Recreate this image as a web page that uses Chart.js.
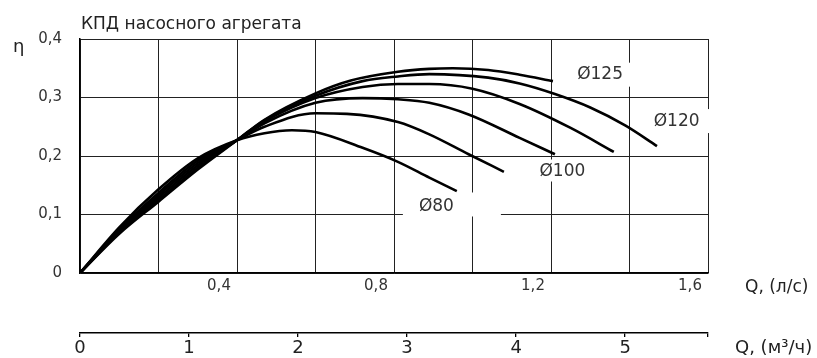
<!DOCTYPE html>
<html>
<head>
<meta charset="utf-8">
<script src="https://cdn.jsdelivr.net/npm/chart.js@4.4.1/dist/chart.umd.min.js"></script>
<style>
  html, body { margin: 0; padding: 0; background: #fff; }
</style>
</head>
<body>
<canvas id="effChart" width="817" height="358"></canvas>
<script>
// КПД насосного агрегата, Q in l/s
const q125 = [0, 0.1, 0.2, 0.3, 0.4, 0.47, 0.6, 0.69, 0.81, 0.89, 0.95, 1.04, 1.12, 1.205];
const eta125 = [0, 0.067, 0.122, 0.177, 0.227, 0.262, 0.307, 0.329, 0.344, 0.349, 0.350, 0.347, 0.339, 0.328];

const q120 = [0, 0.1, 0.2, 0.3, 0.4, 0.47, 0.6, 0.72, 0.81, 0.89, 1.04, 1.12, 1.21, 1.3, 1.39, 1.47];
const eta120 = [0, 0.069, 0.125, 0.180, 0.227, 0.261, 0.303, 0.328, 0.336, 0.340, 0.334, 0.324, 0.306, 0.283, 0.252, 0.217];

const q110 = [0, 0.1, 0.2, 0.3, 0.4, 0.47, 0.6, 0.72, 0.81, 0.89, 1.0, 1.12, 1.25, 1.36];
const eta110 = [0, 0.071, 0.129, 0.184, 0.227, 0.259, 0.299, 0.318, 0.323, 0.323, 0.315, 0.289, 0.248, 0.207];

const q100 = [0, 0.1, 0.2, 0.3, 0.4, 0.47, 0.6, 0.72, 0.81, 0.89, 0.99, 1.12, 1.21];
const eta100 = [0, 0.073, 0.133, 0.188, 0.227, 0.256, 0.291, 0.299, 0.297, 0.291, 0.271, 0.231, 0.203];

const q90 = [0, 0.1, 0.2, 0.3, 0.4, 0.47, 0.6, 0.68, 0.81, 0.89, 0.99, 1.08];
const eta90 = [0, 0.075, 0.137, 0.192, 0.227, 0.250, 0.273, 0.272, 0.258, 0.237, 0.203, 0.173];

const q80 = [0, 0.1, 0.2, 0.3, 0.4, 0.47, 0.54, 0.6, 0.72, 0.81, 0.89, 0.96];
const eta80 = [0, 0.078, 0.143, 0.196, 0.227, 0.239, 0.244, 0.241, 0.214, 0.190, 0.163, 0.140];

const qMaxLs = 1.6;           // l/s
const qMaxM3h = qMaxLs * 3.6; // m3/h
const etaMax = 0.4;
const m3hTicks = [0, 1, 2, 3, 4, 5];

const FONT = '"DejaVu Sans", sans-serif';

function pts(qs, es) {
    return qs.map((q, i) => ({ x: q, y: es[i] }));
}

function curve(label, qs, es) {
    return {
        label: label,
        data: pts(qs, es),
        borderColor: '#000',
        borderWidth: 2.6,
        pointRadius: 0,
        fill: false,
        cubicInterpolationMode: 'monotone'
    };
}

// curve labels, placed in data units (Q l/s, eta) with white boxes behind
const curveLabels = [
    { text: 'Ø125', q: 1.325, eta: 0.339, padL: 9, padR: 10, padT: 12, padB: 12 },
    { text: 'Ø120', q: 1.52, eta: 0.258, padL: 9, padR: 10, padT: 13, padB: 11 },
    { text: 'Ø100', q: 1.229, eta: 0.1735, padL: 9, padR: 9, padT: 12, padB: 10 },
    { text: 'Ø80', q: 0.908, eta: 0.1137, padL: 16, padR: 47, padT: 14, padB: 10 }
];

const extraText = {
    id: 'extraText',
    beforeDatasetsDraw(chart) {
        const ctx = chart.ctx;
        const xs = chart.scales.x, ys = chart.scales.y;
        ctx.save();
        ctx.font = '17px ' + FONT;
        ctx.textBaseline = 'middle';
        ctx.textAlign = 'center';
        curveLabels.forEach(l => {
            const px = xs.getPixelForValue(l.q);
            const py = ys.getPixelForValue(l.eta);
            const w = ctx.measureText(l.text).width;
            ctx.fillStyle = '#fff';
            ctx.fillRect(px - w / 2 - l.padL, py - l.padT, w + l.padL + l.padR, l.padT + l.padB);
            ctx.fillStyle = '#333';
            ctx.fillText(l.text, px, py);
        });
        ctx.restore();
    },
    afterDraw(chart) {
        const ctx = chart.ctx;
        const area = chart.chartArea;
        ctx.save();
        ctx.fillStyle = '#222';
        ctx.textAlign = 'left';
        ctx.textBaseline = 'alphabetic';
        ctx.font = '17px ' + FONT;
        ctx.fillText('КПД насосного агрегата', area.left + 1, 28.5);

        ctx.font = '18px ' + FONT;
        ctx.fillText('η', 13, 52);

        ctx.textBaseline = 'middle';
        ctx.font = '17px ' + FONT;
        ctx.fillText('Q, (л/с)', 745, 288);
        ctx.font = '18px ' + FONT;
        ctx.fillText('Q, (м³/ч)', 735, 348);
        ctx.restore();
    }
};

new Chart(document.getElementById('effChart').getContext('2d'), {
    type: 'line',
    data: {
        datasets: [
            curve('Ø125', q125, eta125),
            curve('Ø120', q120, eta120),
            curve('Ø110', q110, eta110),
            curve('Ø100', q100, eta100),
            curve('Ø90', q90, eta90),
            curve('Ø80', q80, eta80)
        ]
    },
    options: {
        responsive: false,
        animation: false,
        devicePixelRatio: 1,
        layout: { padding: { top: 39, right: 109, left: 0, bottom: 0 } },
        plugins: {
            legend: { display: false },
            tooltip: { enabled: false }
        },
        scales: {
            x: {
                type: 'linear',
                position: 'bottom',
                min: 0,
                max: qMaxLs,
                ticks: {
                    stepSize: 0.2,
                    autoSkip: false,
                    maxRotation: 0,
                    labelOffset: -18,
                    padding: 4,
                    color: '#333',
                    font: { family: FONT, size: 15 },
                    callback: v => {
                        const k = Math.round(v * 10);
                        return (k > 0 && k % 4 === 0) ? v.toFixed(1).replace('.', ',') : '';
                    }
                },
                grid: { color: '#222', lineWidth: 1, drawTicks: false },
                border: { color: '#000', width: 1.5 },
                afterFit: s => { s.height = 60; }
            },
            x2: {
                type: 'linear',
                position: 'bottom',
                min: 0,
                max: qMaxM3h,
                afterBuildTicks: s => {
                    s.ticks = m3hTicks.concat([qMaxM3h]).map(v => ({ value: v }));
                },
                ticks: {
                    autoSkip: false,
                    maxRotation: 0,
                    padding: 1,
                    color: '#222',
                    font: { family: FONT, size: 18 },
                    callback: v => Number.isInteger(v) ? String(v) : ''
                },
                grid: { drawOnChartArea: false, drawTicks: true, tickLength: 4, color: '#000', lineWidth: 1.3 },
                border: { color: '#000', width: 1.5 },
                afterFit: s => { s.height = 25; }
            },
            y: {
                min: 0,
                max: etaMax,
                ticks: {
                    stepSize: 0.1,
                    padding: 18,
                    color: '#333',
                    font: { family: FONT, size: 15 },
                    callback: v => v === 0 ? '0' : v.toFixed(1).replace('.', ',')
                },
                grid: { color: '#222', lineWidth: 1, drawTicks: false },
                border: { color: '#000', width: 1.5 },
                afterFit: s => { s.width = 80; }
            }
        }
    },
    plugins: [extraText]
});
</script>
</body>
</html>
